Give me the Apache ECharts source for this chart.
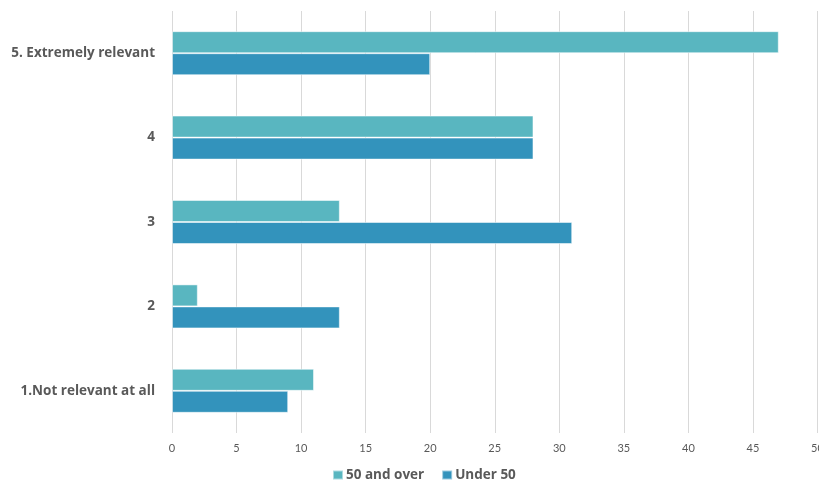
<!DOCTYPE html>
<html>
<head>
<meta charset="utf-8">
<script src="https://cdn.jsdelivr.net/npm/echarts@6/dist/echarts.min.js"></script>
<style>html,body{margin:0;padding:0;background:#fff}#c{width:819px;height:492px}</style>
</head>
<body>
<div id="c"></div>
<script>
const categories = ["1.Not relevant at all", "2", "3", "4", "5. Extremely relevant"];
const over50 = [11, 2, 13, 28, 47];
const under50 = [9, 13, 31, 28, 20];
const seriesNames = ["50 and over", "Under 50"];
const xTicks = { min: 0, max: 50, interval: 5 };

const chart = echarts.init(document.getElementById('c'));
chart.setOption({
  animation: false,
  backgroundColor: '#fff',
  textStyle: { fontFamily: 'Lato' },
  grid: { left: 172, right: 1.5, top: 11, bottom: 59, containLabel: false, outerBoundsMode: 'none' },
  legend: {
    data: seriesNames,
    left: 327, top: 463,
    itemWidth: 10, itemHeight: 9, itemGap: 17,
    icon: 'rect',
    textStyle: { fontFamily: 'Open Sans', fontWeight: 'bold', fontSize: 13.5, color: '#595959', padding: [0,0,0,-2] }
  },
  xAxis: {
    type: 'value', min: xTicks.min, max: xTicks.max, interval: xTicks.interval,
    axisLine: { show: false }, axisTick: { show: false },
    splitLine: { show: true, lineStyle: { color: '#d9d9d9', width: 1 } },
    axisLabel: { color: '#595959', fontSize: 11, margin: 10, fontFamily: 'Lato' }
  },
  yAxis: {
    type: 'category', data: categories,
    axisLine: { show: false }, axisTick: { show: false },
    axisLabel: { color: '#595959', fontSize: 13.5, fontWeight: 'bold', margin: 17, fontFamily: 'Open Sans' }
  },
  series: [
    { name: '50 and over', type: 'bar', data: over50, barWidth: 22, barGap: '0%',
      itemStyle: { color: '#59B6C0', borderColor: 'rgba(255,255,255,0.5)', borderWidth: 1 } },
    { name: 'Under 50', type: 'bar', data: under50, barWidth: 22, barGap: '0%',
      itemStyle: { color: '#3393BC', borderColor: 'rgba(255,255,255,0.5)', borderWidth: 1 } }
  ]
});
</script>
</body>
</html>
